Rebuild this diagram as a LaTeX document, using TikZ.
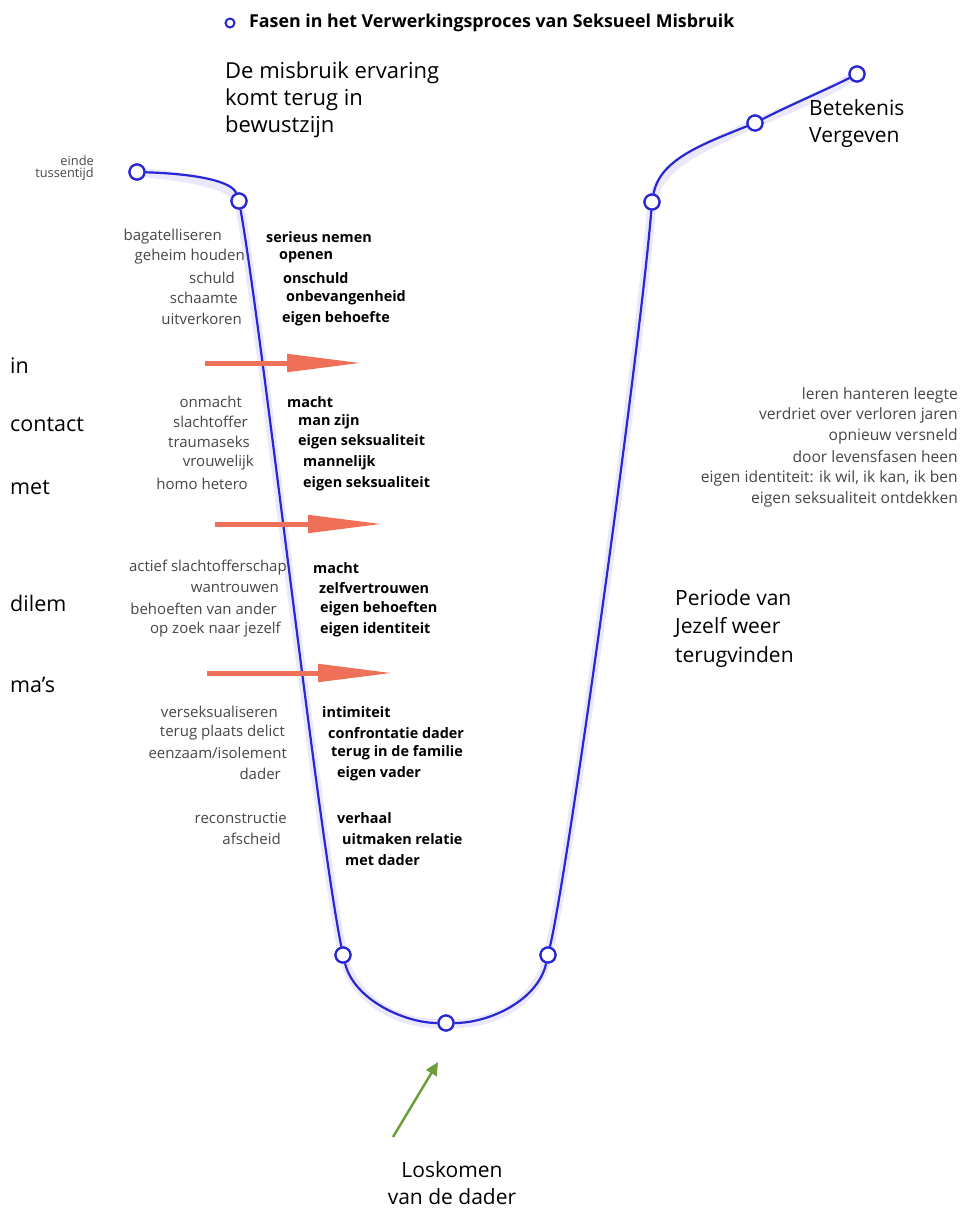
\documentclass[tikz,border=0pt]{standalone}
\usepackage{fontspec}
\setmainfont{Open Sans}
\usepackage{xcolor}
\usetikzlibrary{arrows.meta}
\definecolor{lineblue}{RGB}{40,40,210}
\definecolor{glowblue}{RGB}{110,80,230}
\definecolor{arroworange}{RGB}{238,112,88}
\definecolor{arrowgreen}{RGB}{108,158,58}
\definecolor{wordgray}{RGB}{70,70,70}

\tikzset{
  phase/.style={circle, draw=lineblue, fill=white, line width=2.2pt, minimum size=15pt, inner sep=0pt},
  glow/.style={draw=glowblue, line width=9pt, opacity=0.13, line cap=round},
  curve/.style={draw=lineblue, line width=2.2pt},
  bigtext/.style={font=\fontsize{21}{27}\selectfont, align=left, inner sep=0pt},
  sidetext/.style={font=\fontsize{21.5}{26}\selectfont, anchor=west, inner sep=0pt},
  oldword/.style={font=\fontsize{15}{16}\selectfont, text=wordgray, anchor=east, inner sep=0pt},
  newword/.style={font=\fontsize{14.4}{16}\selectfont\bfseries, anchor=west, inner sep=0pt},
  restword/.style={font=\fontsize{15.6}{16}\selectfont, text=wordgray, anchor=east, inner sep=0pt},
  shiftarrow/.style={draw=arroworange, line width=5pt, -{Triangle[length=75pt, width=17pt]}}
}

\begin{document}
\begin{tikzpicture}[x=1pt, y=-1pt]
  \useasboundingbox (0,0) rectangle (961,1216);

  % title
  \node[circle, draw=lineblue, line width=2pt, minimum size=9pt, inner sep=0pt] (key) at (230,23) {};
  \node[font=\fontsize{17.8}{20}\selectfont\bfseries, anchor=west, inner sep=0pt] (title) at (249,23)
    {Fasen in het Verwerkingsproces van Seksueel Misbruik};

  % phase points on the curve
  \node[phase] (A) at (137,172) {};
  \node[phase] (B) at (239,201) {};
  \node[phase] (C) at (343,955) {};
  \node[phase] (D) at (446,1023) {};
  \node[phase] (E) at (548,955) {};
  \node[phase] (F) at (652,202) {};
  \node[phase] (G) at (755,123) {};
  \node[phase] (H) at (857,74) {};

  % glow under the curve
  \begin{scope}[yshift=-4pt]
    \draw[glow] (A.center) .. controls (200,174) and (232,182) .. (B.center)
      .. controls (262,330) and (318,830) .. (C.center)
      .. controls (354,1000) and (405,1023) .. (D.center)
      .. controls (490,1023) and (538,1000) .. (E.center)
      .. controls (568,870) and (640,350) .. (F.center)
      .. controls (660,160) and (700,145) .. (G.center)
      .. controls (790,105) and (830,88) .. (H.center);
  \end{scope}

  % the curve
  \draw[curve] (A) .. controls (200,174) and (232,182) .. (B)
    (B) .. controls (262,330) and (318,830) .. (C)
    (C) .. controls (354,1000) and (405,1023) .. (D)
    (D) .. controls (490,1023) and (538,1000) .. (E)
    (E) .. controls (568,870) and (640,350) .. (F)
    (F) .. controls (660,160) and (700,145) .. (G)
    (G) .. controls (790,105) and (830,88) .. (H);
  \foreach \p in {A,B,C,D,E,F,G,H}
    \node[phase] at (\p) {};

  % big labels
  \node[bigtext, anchor=north west, font=\fontsize{22}{27}\selectfont] (terug) at (225,62) {De misbruik ervaring\\komt terug in\\bewustzijn};
  \node[font=\fontsize{12.8}{12.5}\selectfont, text=wordgray, align=right, anchor=east, inner sep=0pt] (einde) at (94,168) {einde\\tussentijd};
  \node[bigtext, anchor=north west] (betekenis) at (809,99) {Betekenis\\Vergeven};
  \node[bigtext, anchor=north west, font=\fontsize{21}{28.5}\selectfont] (periode) at (675,589) {Periode van\\Jezelf weer\\terugvinden};
  \node[bigtext, align=center, anchor=north] (loskomen) at (452,1161) {Loskomen\\van de dader};

  % side words
  \node[sidetext] (in) at (10,366) {in};
  \node[sidetext] (contact) at (10,425) {contact};
  \node[sidetext] (met) at (10,488) {met};
  \node[sidetext] (dilem) at (10,603) {dilem};
  \node[sidetext] (mas) at (10,685) {ma’s};

  % old and new words
  \foreach \x/\y/\txt [count=\i] in {
    222/237/bagatelliseren, 245/257/geheim houden, 235/278/schuld, 238/298/schaamte, 242/319/uitverkoren,
    242/402/onmacht, 248/422/slachtoffer, 250/442/traumaseks, 254/463/vrouwelijk, 248/484/homo hetero,
    287/568/actief slachtofferschap, 279/588/wantrouwen, 277/609/behoeften van ander, 281/630/op zoek naar jezelf,
    278/712/verseksualiseren, 285/733/terug plaats delict, 287/753/{eenzaam/isolement}, 281/774/dader,
    287/818/reconstructie, 281/839/afscheid}
    \node[oldword] (old\i) at (\x,\y) {\txt};
  \foreach \x/\y/\txt [count=\i] in {
    266/237/serieus nemen, 279/257/openen, 283/278/onschuld, 286/298/onbevangenheid, 282/319/eigen behoefte,
    287/402/macht, 298/422/man zijn, 298/442/eigen seksualiteit, 303/463/mannelijk, 303/484/eigen seksualiteit,
    313/568/macht, 319/588/zelfvertrouwen, 320/609/eigen behoeften, 320/630/eigen identiteit,
    322/712/intimiteit, 328/733/confrontatie dader, 331/753/terug in de familie, 337/774/eigen vader,
    337/818/verhaal, 342/839/uitmaken relatie, 345/860/met dader}
    \node[newword] (new\i) at (\x,\y) {\txt};

  % right hand words
  \foreach \y/\txt [count=\i] in {
    395/leren hanteren leegte, 415/verdriet over verloren jaren, 436/opnieuw versneld,
    457/door levensfasen heen, {478/eigen identiteit: ik wil, ik kan, ik ben}, 499/eigen seksualiteit ontdekken}
    \node[restword] (rest\i) at (958,\y) {\txt};

  % orange arrows
  \coordinate (s1) at (205,363); \coordinate (t1) at (362,363);
  \coordinate (s2) at (215,524); \coordinate (t2) at (383,524);
  \coordinate (s3) at (207,673); \coordinate (t3) at (393,673);
  \draw[shiftarrow] (s1) -- (t1);
  \draw[shiftarrow] (s2) -- (t2);
  \draw[shiftarrow] (s3) -- (t3);

  % green arrow
  \coordinate (g0) at (393,1137);
  \coordinate (g1) at (438,1062);
  \draw[arrowgreen, line width=2.5pt, -{Triangle[length=13pt, width=12pt]}] (g0) -- (g1);
\end{tikzpicture}
\end{document}
